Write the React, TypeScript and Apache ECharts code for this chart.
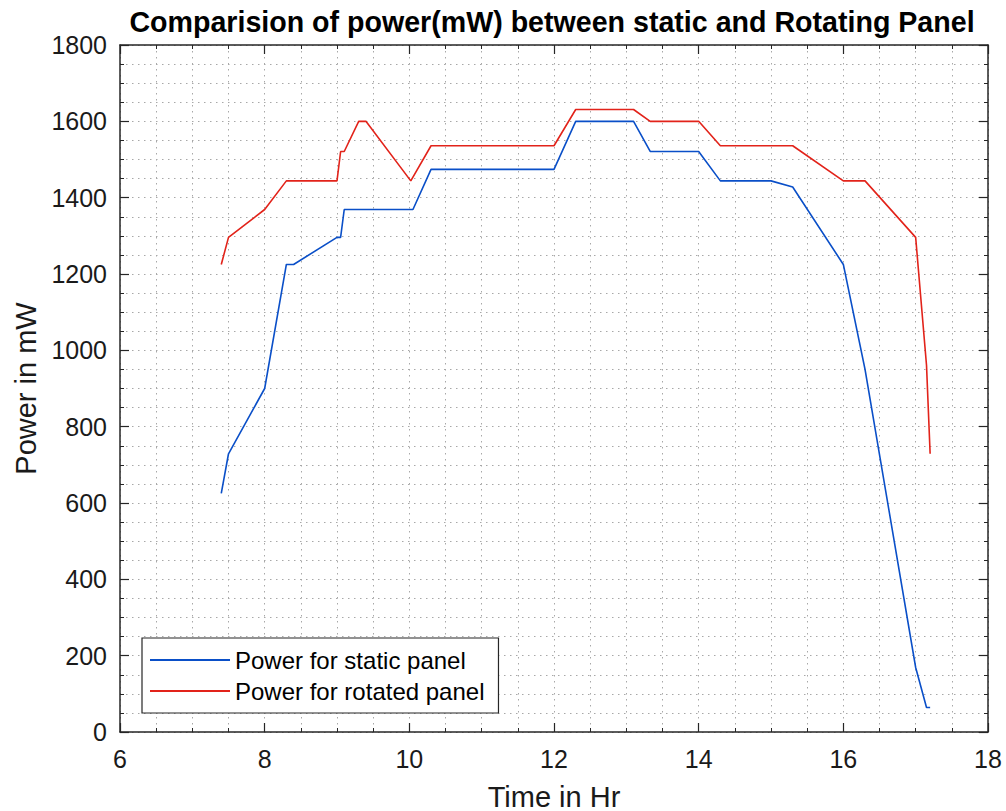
import React, { useEffect, useRef } from "react";
import * as echarts from "echarts";

const timeStatic = [7.4, 7.5, 8, 8.3, 8.4, 9, 9.05, 9.1, 10.05, 10.3, 12, 12.3, 13.1, 13.33, 14, 14.3, 15, 15.3, 16, 16.3, 17, 17.15, 17.2];
const powerStatic = [625, 729, 900, 1225, 1225, 1296, 1296, 1369, 1369, 1474, 1474, 1600, 1600, 1521, 1521, 1444, 1444, 1428, 1225, 950, 169, 64, 64];

const timeRotated = [7.4, 7.5, 8, 8.3, 9, 9.05, 9.1, 9.3, 9.4, 10.02, 10.3, 12, 12.3, 13.1, 13.33, 14, 14.3, 15.3, 16, 16.3, 17, 17.15, 17.2];
const powerRotated = [1225, 1296, 1369, 1444, 1444, 1521, 1521, 1600, 1600, 1444, 1536, 1536, 1631, 1631, 1600, 1600, 1536, 1536, 1444, 1444, 1296, 961, 729];

const seriesNames = ["Power for static panel", "Power for rotated panel"];
const titleText = "Comparision of power(mW) between static and Rotating Panel";
const xName = "Time in Hr";
const yName = "Power in mW";

const FONT = "'Liberation Sans', Arial, Helvetica, sans-serif";
const TXT = "#1a1a1a";
const AX = "#262626";
const GRID = "#a8a8a8";

export default function App() {
  const ref = useRef<HTMLDivElement>(null);
  useEffect(() => {
    if (!ref.current) return;
    const chart = echarts.init(ref.current, undefined, { renderer: "svg" });
    const dotted = { color: GRID, width: 1, type: [1.5, 4.5] as any };
    const common = {
      type: "value" as const,
      axisLine: { show: true, onZero: false, lineStyle: { color: AX, width: 1.5 } },
      axisTick: { show: true, inside: true, length: 9, lineStyle: { color: AX, width: 1.2 } },
      minorTick: { show: true, splitNumber: 4, length: 4, lineStyle: { color: AX, width: 1 } },
    };
    const sData = timeStatic.map((t, i) => [t, powerStatic[i]]);
    const rData = timeRotated.map((t, i) => [t, powerRotated[i]]);
    chart.setOption({
      animation: false,
      backgroundColor: "#ffffff",
      textStyle: { fontFamily: FONT },
      grid: { left: 120, right: 18, top: 45, bottom: 79, outerBoundsMode: "none", containLabel: false },
      graphic: [
        {
          type: "text",
          x: 552,
          y: 22,
          style: {
            text: titleText,
            align: "center",
            verticalAlign: "middle",
            fontFamily: FONT,
            fontWeight: "bold",
            fontSize: 28.6,
            fill: "#000",
          },
        },
      ],
      legend: {
        orient: "vertical",
        left: 142,
        top: 638,
        data: seriesNames,
        icon: "rect",
        itemWidth: 80,
        itemHeight: 2,
        itemGap: 5,
        padding: [9, 14, 9, 8],
        backgroundColor: "#ffffff",
        borderColor: AX,
        borderWidth: 1.2,
        borderRadius: 0,
        textStyle: { fontSize: 24, color: "#000", fontFamily: FONT, lineHeight: 26 },
      },
      xAxis: [
        {
          ...common,
          min: 6,
          max: 18,
          interval: 2,
          position: "bottom",
          name: xName,
          nameLocation: "middle",
          nameGap: 50,
          nameTextStyle: { fontSize: 29, color: TXT, fontFamily: FONT },
          axisLabel: { fontSize: 25, color: TXT, margin: 14, fontFamily: FONT, formatter: (v: number) => String(v) },
          splitLine: { show: true, lineStyle: dotted },
          minorSplitLine: { show: true, lineStyle: dotted },
        },
        {
          ...common,
          min: 6,
          max: 18,
          interval: 2,
          position: "top",
          axisLabel: { show: false },
          splitLine: { show: false },
        },
      ],
      yAxis: [
        {
          ...common,
          min: 0,
          max: 1800,
          interval: 200,
          position: "left",
          name: yName,
          nameLocation: "middle",
          nameGap: 70,
          nameTextStyle: { fontSize: 29, color: TXT, fontFamily: FONT },
          axisLabel: { fontSize: 25, color: TXT, margin: 13, fontFamily: FONT, formatter: (v: number) => String(v) },
          splitLine: { show: true, lineStyle: dotted },
          minorSplitLine: { show: true, lineStyle: dotted },
        },
        {
          ...common,
          min: 0,
          max: 1800,
          interval: 200,
          position: "right",
          axisLabel: { show: false },
          splitLine: { show: false },
        },
      ],
      series: [
        {
          name: seriesNames[0],
          type: "line",
          data: sData,
          symbol: "none",
          lineStyle: { color: "#0a4fc8", width: 1.6 },
          itemStyle: { color: "#0a4fc8" },
        },
        {
          name: seriesNames[1],
          type: "line",
          data: rData,
          symbol: "none",
          lineStyle: { color: "#e2231a", width: 1.6 },
          itemStyle: { color: "#e2231a" },
        },
      ],
    });
    return () => chart.dispose();
  }, []);
  return (
    <div
      ref={ref}
      style={{ position: "fixed", left: 0, top: 0, width: 1006, height: 811, background: "#fff" }}
    />
  );
}
